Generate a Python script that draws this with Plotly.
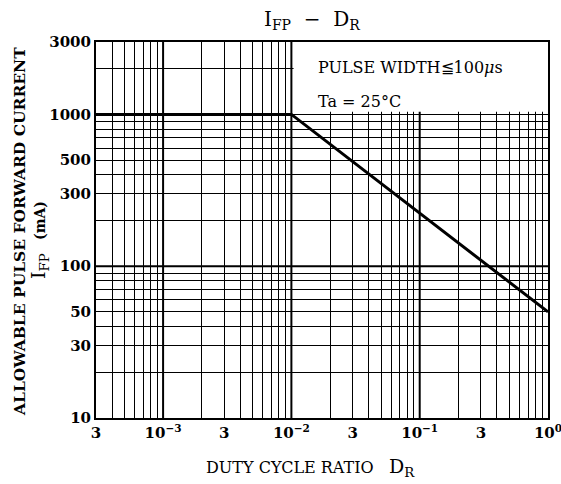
import plotly.graph_objects as go

# ---- data ----
duty = [3e-4, 1.0e-2, 1.0]
ifp = [1000, 1000, 50]

x_tick_vals = [3e-4, 1e-3, 3e-3, 1e-2, 3e-2, 1e-1, 3e-1, 1.0]
x_tick_text = ["3", "10<sup>−3</sup>", "3", "10<sup>−2</sup>", "3", "10<sup>−1</sup>", "3", "10<sup>0</sup>"]
x_minor_vals = [m * 10.0 ** e for e in (-4, -3, -2, -1) for m in range(2, 10)
                if 3e-4 <= m * 10.0 ** e <= 1 and m not in (3,)]
x_decades = [1e-3, 1e-2, 1e-1]

y_tick_vals = [10, 30, 50, 100, 300, 500, 1000, 3000]
y_tick_text = ["10", "30", "50", "100", "300", "500", "1000", "3000"]
y_minor_vals = [m * 10.0 ** e for e in (1, 2, 3) for m in range(2, 10)
                if m * 10.0 ** e <= 3000 and m not in (3, 5)]
y_thick = [100]

SERIF = "DejaVu Serif"

fig = go.Figure()
fig.add_trace(go.Scatter(x=duty, y=ifp, mode="lines",
                         line=dict(color="black", width=3), showlegend=False,
                         hoverinfo="skip"))

# thicker decade grid lines
for xv in x_decades:
    fig.add_shape(type="line", xref="x", yref="y", x0=xv, x1=xv, y0=10, y1=3000,
                  line=dict(color="black", width=2), layer="between")
for yv in y_thick:
    fig.add_shape(type="line", xref="x", yref="y", x0=3e-4, x1=1, y0=yv, y1=yv,
                  line=dict(color="black", width=2), layer="between")

# white legend box area (hides grid)
fig.add_shape(type="rect", xref="x", yref="y", x0=1.04e-2, x1=1.0, y0=1040, y1=3000,
              fillcolor="white", line=dict(width=0), layer="between")

fig.update_xaxes(type="log", range=[-3.5229, 0], tickvals=x_tick_vals, ticktext=x_tick_text,
                 showgrid=True, gridcolor="black", gridwidth=1,
                 minor=dict(tickvals=x_minor_vals, showgrid=True, gridcolor="black",
                            gridwidth=1, ticks=""),
                 showline=True, linecolor="black", linewidth=2, mirror=True,
                 ticks="", tickfont=dict(family=SERIF, size=15, color="black", weight="bold"),
                 ticklabeloverflow="allow",
                 zeroline=False, automargin=False)
fig.update_yaxes(type="log", range=[1, 3.4771], tickvals=y_tick_vals, ticktext=y_tick_text,
                 showgrid=True, gridcolor="black", gridwidth=1,
                 minor=dict(tickvals=y_minor_vals, showgrid=True, gridcolor="black",
                            gridwidth=1, ticks=""),
                 showline=True, linecolor="black", linewidth=2, mirror=True,
                 ticks="", tickfont=dict(family=SERIF, size=15, color="black", weight="bold"),
                 ticklabeloverflow="allow",
                 zeroline=False, automargin=False)

L, R, T, B = 96, 13, 42, 66
W, H = 561, 484
pw, ph = W - L - R, H - T - B

def px(xp):
    return (xp - L) / pw

def py(yp):
    return (H - B - yp) / ph

anns = [
    dict(text="I<sub>FP</sub>  −  D<sub>R</sub>", x=px(312), y=py(20),
         font=dict(family=SERIF, size=20, color="black")),
    dict(text="DUTY CYCLE RATIO   <span style='font-size:19px'>D<sub>R</sub></span>", x=px(310), y=py(468),
         font=dict(family=SERIF, size=16, color="black")),
    dict(text="<b>ALLOWABLE PULSE FORWARD CURRENT</b>", x=px(20), y=py(232), textangle=-90,
         font=dict(family=SERIF, size=15.5, color="black")),
    dict(text="<span style='font-size:19px'>I<sub>FP</sub></span>   <b>(mA)</b>", x=px(39), y=py(240), textangle=-90,
         font=dict(family=SERIF, size=14, color="black")),
    dict(text="PULSE WIDTH≦100<i>μ</i>s", x=px(316), y=py(67), xanchor="left",
         font=dict(family=SERIF, size=16, color="black")),
    dict(text="Ta = 25°C", x=px(316), y=py(102), xanchor="left",
         font=dict(family=SERIF, size=16, color="black")),
]
for a in anns:
    a.setdefault("xanchor", "center")
    fig.add_annotation(xref="paper", yref="paper", showarrow=False, yanchor="middle", **a)

fig.update_layout(width=W, height=H, margin=dict(l=L, r=R, t=T, b=B),
                  paper_bgcolor="white", plot_bgcolor="white", showlegend=False)

fig.write_html("out.html", config={"displayModeBar": False},
               post_script="document.body.style.margin='0';document.body.style.overflow='hidden';")
